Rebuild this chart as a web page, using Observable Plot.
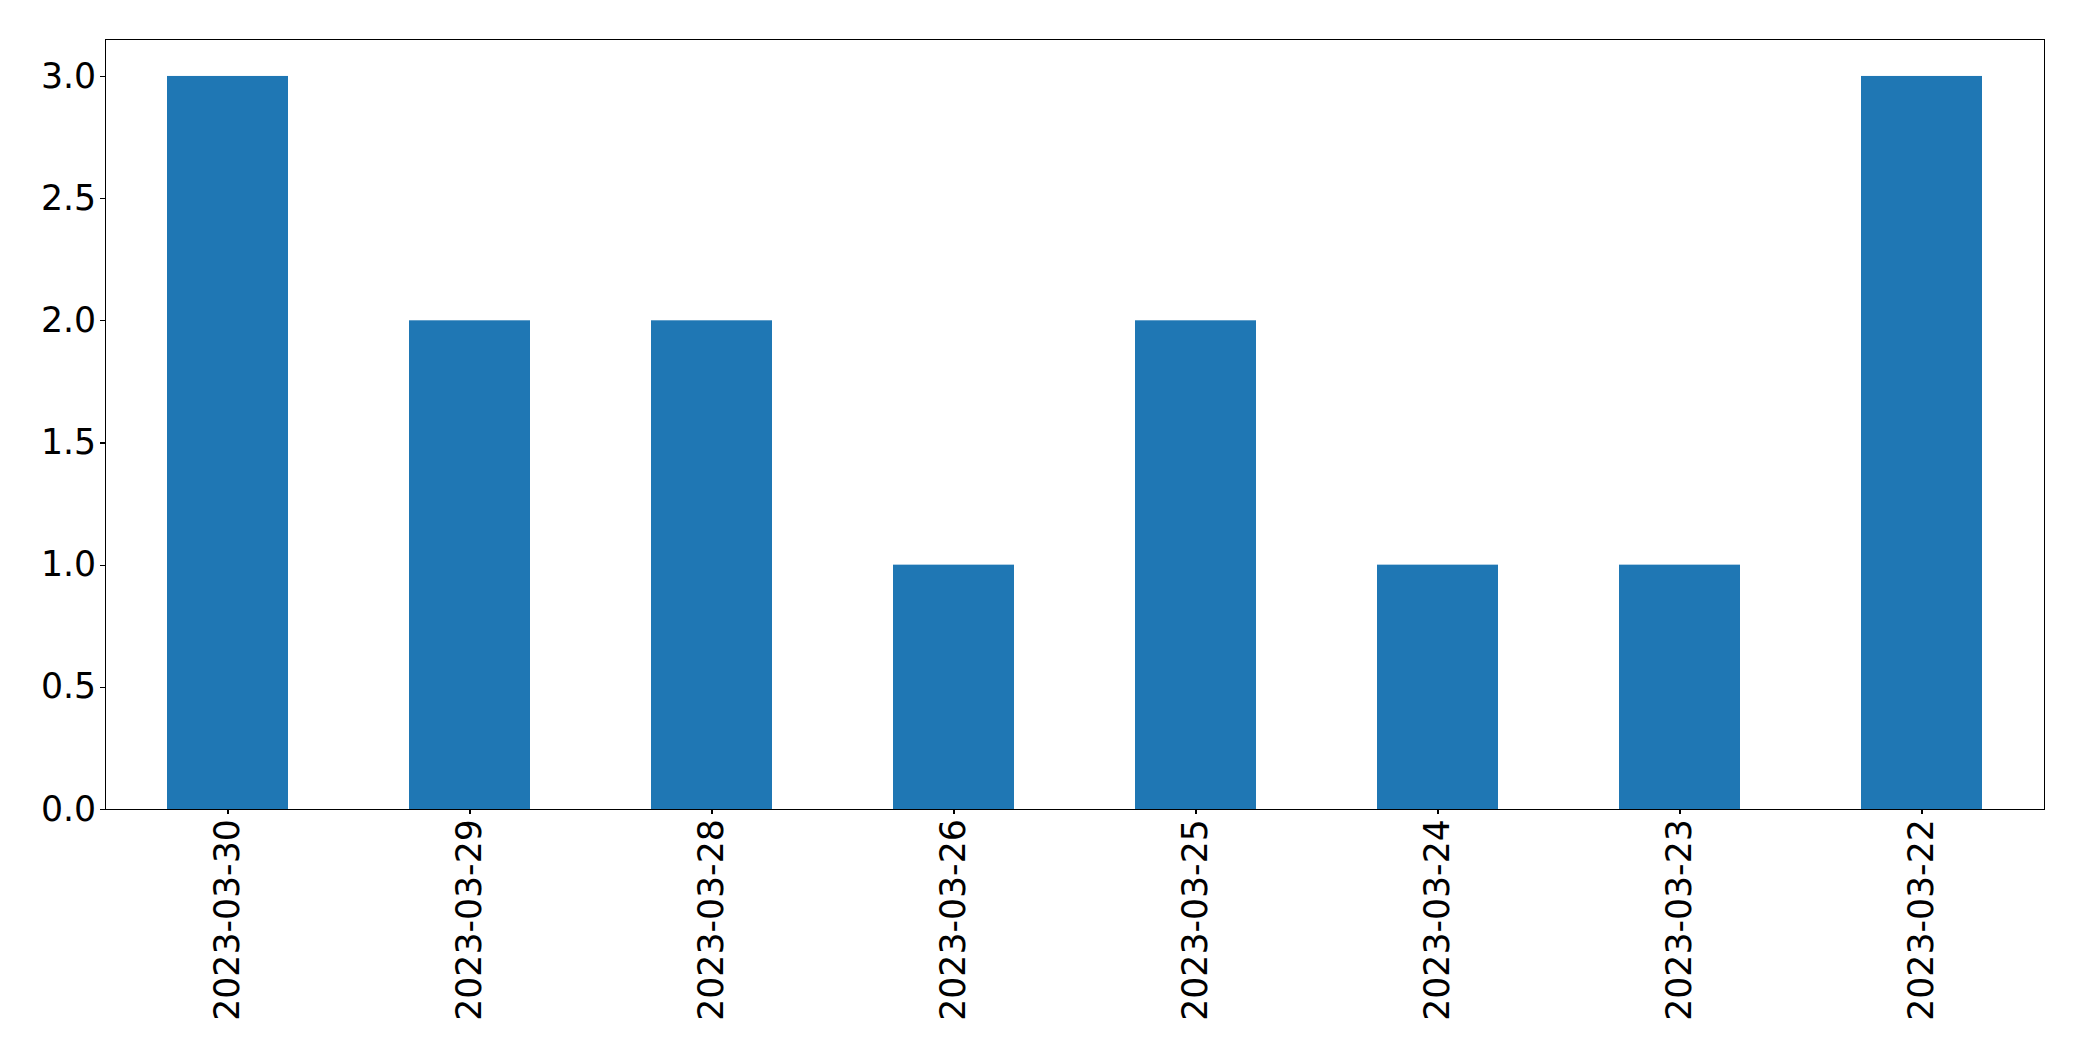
<!DOCTYPE html>
<html>
<head>
<meta charset="utf-8">
<script src="https://cdn.jsdelivr.net/npm/d3@7"></script>
<script src="https://cdn.jsdelivr.net/npm/@observablehq/plot@0.6"></script>
<style>
  html, body { margin: 0; padding: 0; background: white; overflow: hidden; }
  #chart svg { display: block; }
</style>
</head>
<body>
<div id="chart"></div>
<script>
const dates = ["2023-03-30", "2023-03-29", "2023-03-28", "2023-03-26", "2023-03-25", "2023-03-24", "2023-03-23", "2023-03-22"];
const counts = [3, 2, 2, 1, 2, 1, 1, 3];
const yTicks = [0, 0.5, 1, 1.5, 2, 2.5, 3];

const data = dates.map((d, i) => ({date: d, value: counts[i]}));

const fs = 34.7;
const chart = Plot.plot({
  width: 2082,
  height: 1061,
  marginLeft: 105.3,
  marginRight: 38.3,
  marginTop: 39.3,
  marginBottom: 252,
  style: {fontFamily: "'DejaVu Sans', sans-serif", fontSize: fs + "px", color: "black", background: "white"},
  x: {domain: dates, paddingInner: 0.5, paddingOuter: 0.25, label: null},
  y: {domain: [0, 3.15], label: null},
  marks: [
    Plot.barY(data, {x: "date", y: "value", fill: "#1f77b4"}),
    Plot.frame({stroke: "black", strokeWidth: 1.2, shapeRendering: "crispEdges"}),
    Plot.axisY({ticks: yTicks, tickFormat: d => d.toFixed(1), tickSize: 4.86, tickPadding: 4.86, strokeWidth: 1.2, shapeRendering: "crispEdges", label: null, fontSize: fs}),
    Plot.axisX({tickRotate: -90, tickSize: 4.86, tickPadding: 4.86, strokeWidth: 1.2, shapeRendering: "crispEdges", label: null, fontSize: fs})
  ]
});
document.getElementById("chart").appendChild(chart);
</script>
</body>
</html>
